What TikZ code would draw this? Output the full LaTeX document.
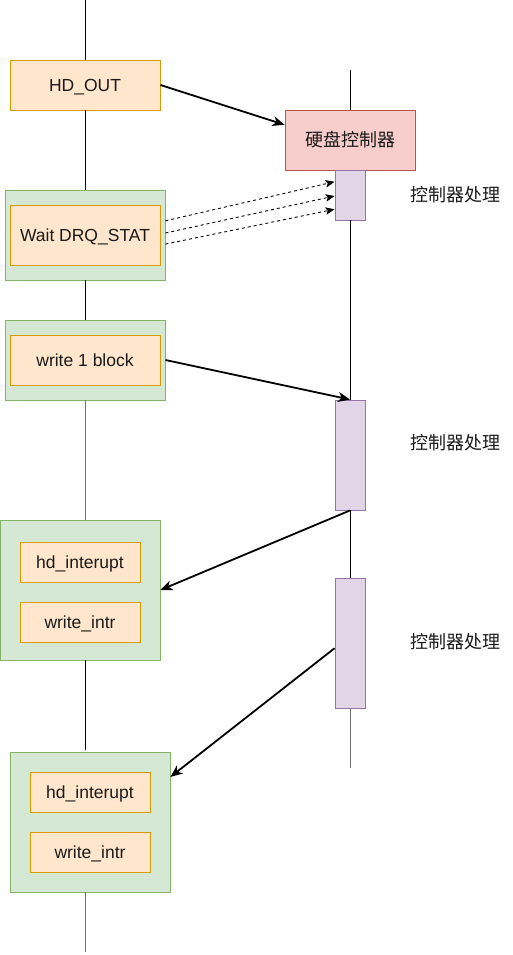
\documentclass[tikz,border=0pt]{standalone}
\usepackage{fontspec}
\setmainfont{Liberation Sans}
\newfontfamily\cjk{Noto Sans CJK SC}
\usetikzlibrary{arrows.meta,calc}
\definecolor{orfill}{HTML}{FFE6CC}
\definecolor{ordraw}{HTML}{D79B00}
\definecolor{grfill}{HTML}{D5E8D4}
\definecolor{grdraw}{HTML}{82B366}
\definecolor{rdfill}{HTML}{F8CECC}
\definecolor{rddraw}{HTML}{B85450}
\definecolor{pufill}{HTML}{E1D5E7}
\definecolor{pudraw}{HTML}{9673A6}
\definecolor{txt}{HTML}{1A1A1A}
\definecolor{lgray}{HTML}{707070}
\tikzset{
  obox/.style={draw=ordraw,fill=orfill,line width=0.9pt,inner sep=0pt,
    text=txt,text height=15.75pt,text depth=3.15pt,
    font=\fontsize{17.5}{20}\selectfont},
  gbox/.style={draw=grdraw,fill=grfill,line width=0.9pt,inner sep=0pt},
  rbox/.style={draw=rddraw,fill=rdfill,line width=0.9pt,inner sep=0pt,
    text=txt,text height=16.2pt,text depth=3.24pt,
    font=\cjk\fontsize{18}{20}\selectfont},
  pbox/.style={draw=pudraw,fill=pufill,line width=0.9pt,inner sep=0pt,
    minimum width=30pt},
  lbl/.style={font=\cjk\fontsize{18}{20}\selectfont,inner sep=0pt,text=txt,
    text height=16.2pt,text depth=3.24pt},
  life/.style={line width=1pt,black},
  lifeg/.style={line width=1pt,lgray},
  msg/.style={line width=1.8pt,-{Stealth[length=12pt,width=10pt,inset=3.5pt]}},
  dmsg/.style={line width=0.9pt,dash pattern=on 3pt off 3pt,-{Stealth[length=9pt,width=7.5pt,inset=2pt]}}
}
\begin{document}
\begin{tikzpicture}[x=1pt,y=-1pt]
\useasboundingbox (0,0) rectangle (512,955);
% left column
\node[obox,minimum width=150pt,minimum height=50pt] (hdout) at (85,85) {HD\_OUT};
\node[gbox,minimum width=160pt,minimum height=90pt] (g1) at (85,235) {};
\node[obox,minimum width=150pt,minimum height=60pt] (wait) at (85,235) {Wait DRQ\_STAT};
\node[gbox,minimum width=160pt,minimum height=80pt] (g2) at (85,360) {};
\node[obox,minimum width=150pt,minimum height=50pt] (w1) at (85,360) {write 1 block};
\node[gbox,minimum width=160pt,minimum height=140pt] (g3) at (80,590) {};
\node[obox,minimum width=120pt,minimum height=40pt] (hi1) at (80,562) {hd\_interupt};
\node[obox,minimum width=120pt,minimum height=40pt] (wi1) at (80,622) {write\_intr};
\node[gbox,minimum width=160pt,minimum height=140pt] (g4) at (90,822) {};
\node[obox,minimum width=120pt,minimum height=40pt] (hi2) at (90,792) {hd\_interupt};
\node[obox,minimum width=120pt,minimum height=40pt] (wi2) at (90,852) {write\_intr};
% right column
\node[rbox,minimum width=130pt,minimum height=60pt] (ctrl) at (350,140) {硬盘控制器};
\node[pbox,minimum height=50pt] (p1) at (350,195) {};
\node[pbox,minimum height=110pt] (p2) at (350,455) {};
\node[pbox,minimum height=130pt] (p3) at (350,643) {};
\node[lbl] (l1) at (455,195) {控制器处理};
\node[lbl] (l2) at (455,443) {控制器处理};
\node[lbl] (l3) at (455,642) {控制器处理};
% lifeline ends
\coordinate (ltop) at (85,0);
\coordinate (lbot) at (85,952);
\coordinate (l3top) at (85,520);
\coordinate (l3bot) at (85,660);
\coordinate (l4top) at (85,750);
\coordinate (l4bot) at (85,892);
\coordinate (rtop) at (350,70);
\coordinate (rbot) at (350,768);
% left lifeline
\draw[life] (ltop) -- (hdout.north);
\draw[life] (hdout.south) -- (g1.north);
\draw[life] (g1.south) -- (g2.north);
\draw[lifeg] (g2.south) -- (l3top);
\draw[life] (l3bot) -- (l4top);
\draw[lifeg] (l4bot) -- (lbot);
% right lifeline
\draw[life] (rtop) -- (ctrl.north);
\draw[life] (p1.south) -- (p2.north);
\draw[life] (p2.south) -- (p3.north);
\draw[lifeg] (p3.south) -- (rbot);
% messages
\draw[msg] (hdout.east) -- ($(ctrl.north west)!0.25!(ctrl.south west)$);
\draw[dmsg] ($(g1.north east)!0.344!(g1.south east)$) -- ($(p1.north west)!0.24!(p1.south west)$);
\draw[dmsg] ($(g1.north east)!0.478!(g1.south east)$) -- ($(p1.north west)!0.52!(p1.south west)$);
\draw[dmsg] ($(g1.north east)!0.6!(g1.south east)$) -- ($(p1.north west)!0.78!(p1.south west)$);
\draw[msg] (g2.east) -- (p2.north);
\draw[msg] (p2.south) -- (g3.east);
\draw[msg] ($(p3.north west)!0.54!(p3.south west)$) -- ($(g4.north east)!0.18!(g4.south east)$);
\end{tikzpicture}
\end{document}
